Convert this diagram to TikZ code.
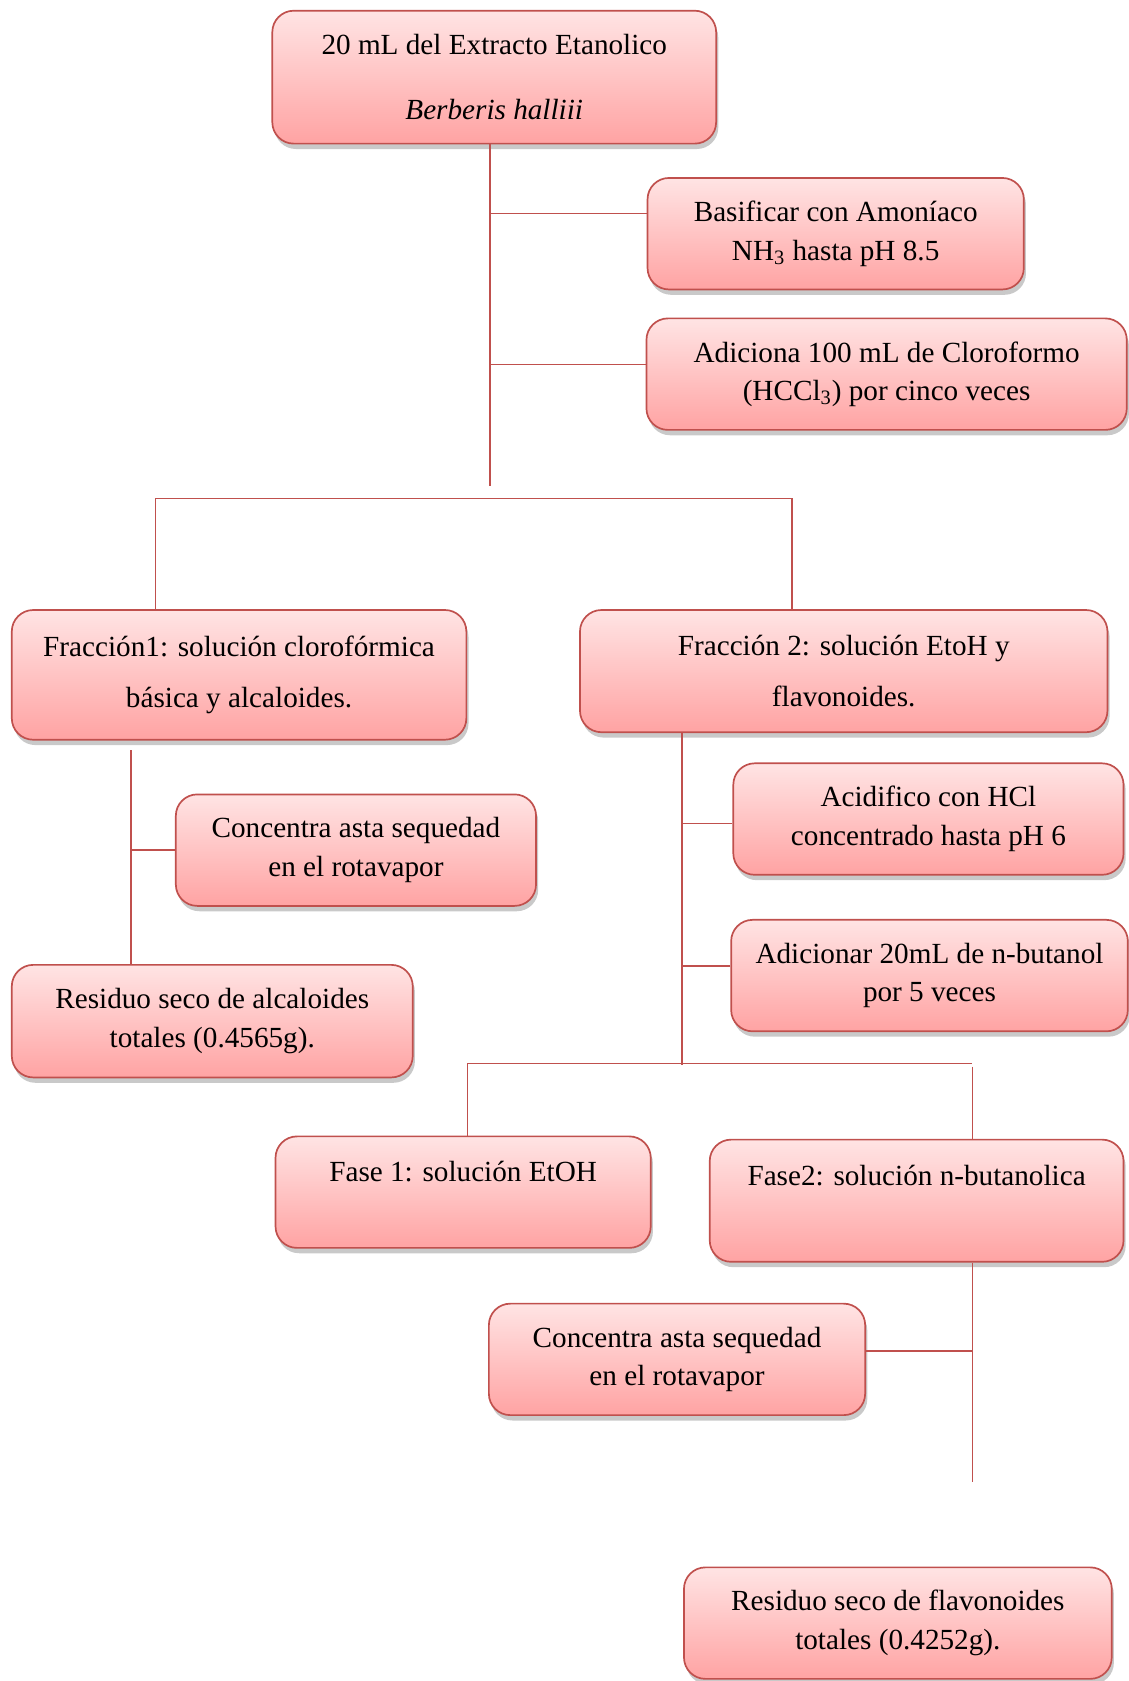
\documentclass[tikz,border=0pt]{standalone}
\usepackage{fontspec}
\setmainfont{Liberation Serif}
\usepackage{tikz}
\usetikzlibrary{positioning, shadows, calc}
\definecolor{boxborder}{RGB}{192, 80, 77}
\definecolor{boxtop}{RGB}{255, 228, 228}
\definecolor{boxbottom}{RGB}{255, 163, 163}

\begin{document}
\begin{tikzpicture}[
    stepnode/.style={draw=boxborder, line width=0.9pt, rounded corners=0.4cm,
                     top color=boxtop, bottom color=boxbottom, align=center,
                     minimum height=2.08cm, inner sep=2pt,
                     font=\fontsize{15.5}{20.5}\selectfont,
                     drop shadow={shadow xshift=0.04cm, shadow yshift=-0.1cm,
                                  opacity=0.3, fill=black!70}},
    link/.style={draw=boxborder, line width=0.85pt}
]
    \useasboundingbox (0,0) rectangle (21.06,-31.36);

    % boxes
    \node[stepnode, minimum width=8.28cm, minimum height=2.48cm] (extract) at (9.22,-1.44)
        {20 mL del Extracto Etanolico\\[0.5cm]\textit{Berberis halliii}};
    \node[stepnode, minimum width=7.02cm] (basify) at (15.59,-4.36)
        {Basificar con Amoníaco\\NH\textsubscript{3} hasta pH 8.5};
    \node[stepnode, minimum width=8.96cm] (chloro) at (16.54,-6.98)
        {Adiciona 100 mL de Cloroformo\\(HCCl\textsubscript{3}) por cinco veces};
    \node[stepnode, minimum width=8.48cm, minimum height=2.42cm] (fraction1) at (4.46,-12.59)
        {Fracción1: solución clorofórmica\\[0.24cm]básica y alcaloides.};
    \node[stepnode, minimum width=9.84cm, minimum height=2.28cm] (fraction2) at (15.74,-12.52)
        {Fracción 2: solución EtoH y\\[0.24cm]flavonoides.};
    \node[stepnode, minimum width=6.72cm] (dryleft) at (6.64,-15.86)
        {Concentra asta sequedad\\en el rotavapor};
    \node[stepnode, minimum width=7.48cm, minimum height=2.1cm] (alkaloids) at (3.96,-19.05)
        {Residuo seco de alcaloides\\totales (0.4565g).};
    \node[stepnode, minimum width=7.28cm] (acidify) at (17.32,-15.28)
        {Acidifico con HCl\\concentrado hasta pH 6};
    \node[stepnode, minimum width=7.4cm] (butanol) at (17.34,-18.2)
        {Adicionar 20mL de n-butanol\\por 5 veces};
    \node[stepnode, minimum width=7.0cm] (phase1) at (8.64,-22.24)
        {Fase 1: solución EtOH\\[0.06cm]\mbox{}};
    \node[stepnode, minimum width=7.72cm, minimum height=2.28cm] (phase2) at (17.1,-22.4)
        {Fase2: solución n-butanolica\\[0.24cm]\mbox{}};
    \node[stepnode, minimum width=7.02cm] (dryright) at (12.63,-25.36)
        {Concentra asta sequedad\\en el rotavapor};
    \node[stepnode, minimum width=7.98cm] (flavonoids) at (16.75,-30.28)
        {Residuo seco de flavonoides\\totales (0.4252g).};

    % joints
    \coordinate (split1) at (9.14,-9.06);
    \coordinate (bar1L) at (2.9,-9.3);
    \coordinate (bar1R) at (14.78,-9.3);
    \coordinate (left1) at (2.44,-14.0);
    \coordinate (right1) at (12.72,-19.86);
    \coordinate (bar2L) at (8.72,-19.84);
    \coordinate (bar2R) at (18.14,-19.84);
    \coordinate (right2) at (18.14,-27.64);

    % connectors
    \draw[link] (extract.south -| split1) -- (split1);
    \draw[link] ([yshift=0.38cm]basify.west) -| (split1);
    \draw[link] ([yshift=0.18cm]chloro.west) -| (split1);
    \draw[link] (fraction1.north -| bar1L) |- (bar1R) -- (fraction2.north -| bar1R);

    \draw[link] (left1) -- (left1 |- alkaloids.north);
    \draw[link] (dryleft.west) -| (left1);

    \draw[link] (fraction2.south -| right1) -- (right1);
    \draw[link] ([yshift=-0.08cm]acidify.west) -| (right1);
    \draw[link] ([yshift=0.18cm]butanol.west) -| (right1);
    \draw[link] (phase1.north -| bar2L) |- (bar2R);
    \draw[link] ([yshift=-0.06cm]bar2R) -- (phase2.north -| bar2R);

    \draw[link] (phase2.south -| right2) -- (right2);
    \draw[link] ([yshift=0.16cm]dryright.east) -| (right2);
\end{tikzpicture}
\end{document}
